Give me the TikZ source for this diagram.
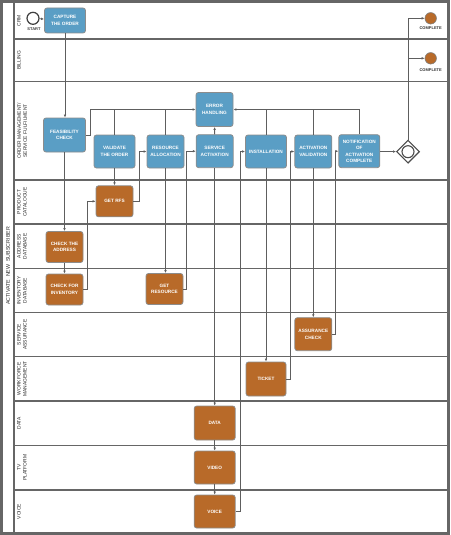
\documentclass[tikz,border=0pt]{standalone}
\usepackage{fontspec}
\setmainfont{Liberation Sans}
\usetikzlibrary{shapes.geometric, arrows.meta}
\definecolor{taskblue}{HTML}{5A9EC5}
\definecolor{taskorange}{HTML}{B86A29}
\definecolor{framegray}{HTML}{666666}
\definecolor{linegray}{HTML}{5E5E5E}
\begin{document}
\begin{tikzpicture}
[every node/.style={inner sep=0pt},
 >={Latex[length=3pt,width=2.6pt]},
 lane/.style={line width=1.2pt, color=framegray},
 lanelabel/.style={rotate=90, anchor=north, align=center, text=black!85, font=\fontsize{4.9}{6}\selectfont},
 task/.style={rectangle, rounded corners=2.5pt, minimum height=33pt, line width=0.8pt, draw=gray!90, text=white, align=center, font=\fontsize{4.7}{6.4}\selectfont\bfseries},
 bluetask/.style={task, fill=taskblue},
 orangetask/.style={task, fill=taskorange},
 flow/.style={line width=0.8pt, ->, color=linegray},
 mergeline/.style={line width=0.8pt, color=linegray},
 endevent/.style={circle, minimum size=11.5pt, fill=taskorange, line width=0.6pt, draw=gray},
 eventlabel/.style={font=\fontsize{4}{4.5}\selectfont\bfseries, text=black!80}]
\useasboundingbox (0pt,0pt) rectangle (450pt,-535pt);
% swimlanes
\foreach \y in {39, 81.5, 180, 224, 268.5, 312.5, 356.5, 401, 445.5, 490}
  \draw [lane] (14pt, -\y pt) -- (447pt, -\y pt);
\draw [line width=1.6pt, color=framegray] (14pt, -2pt) -- (14pt, -533pt);
\draw [line width=2.6pt, color=framegray] (1.3pt, -1.3pt) rectangle (448.7pt, -533.7pt);
\node (pool) [rotate=90, text=black!85, font=\fontsize{5.3}{6}\selectfont] at (8pt, -266pt) {ACTIVATE\ \ NEW\ \ SUBSCRIBER};
\node (l1) [lanelabel] at (17pt, -20.5pt) {CRM};
\node (l2) [lanelabel] at (17pt, -60.3pt) {BILLING};
\node (l3) [lanelabel] at (17pt, -130.8pt) {ORDER MANAGEMENT/\\SERVICE FULFILMENT};
\node (l4) [lanelabel] at (17pt, -202pt) {PRODUCT\\CATALOGUE};
\node (l5) [lanelabel] at (17pt, -246.3pt) {ADDRESS\\DATABASE};
\node (l6) [lanelabel] at (17pt, -290.5pt) {INVENTORY\\DATABASE};
\node (l7) [lanelabel] at (17pt, -334.5pt) {SERVICE\\ASSURANCE};
\node (l8) [lanelabel] at (17pt, -378.8pt) {WORKFORCE\\MANAGEMENT};
\node (l9) [lanelabel] at (17pt, -423.3pt) {DATA};
\node (l10) [lanelabel] at (17pt, -467.8pt) {TV\\PLATFORM};
\node (l11) [lanelabel] at (17pt, -511.5pt) {VOICE};
% events and gateway
\node (start) [circle, minimum size=12pt, fill=white, line width=1.2pt, draw=black!75] at (33pt, -18.3pt) {};
\node (startlbl) [eventlabel] at (34pt, -29pt) {START};
\node (end1) [endevent] at (430.7pt, -18.3pt) {};
\node (end1lbl) [eventlabel] at (430.7pt, -28.5pt) {COMPLETE};
\node (end2) [endevent] at (430.7pt, -58.3pt) {};
\node (end2lbl) [eventlabel] at (430.7pt, -70pt) {COMPLETE};
\node (gw) [diamond, minimum size=23pt, fill=white, line width=1.1pt, draw=black!70] at (408pt, -151.7pt) {};
\node (gwring) [circle, minimum size=12pt, line width=1.1pt, draw=black!70] at (408pt, -151.7pt) {};
% tasks
\node (capture) [bluetask, minimum width=41pt, minimum height=25pt] at (65pt, -20.5pt) {CAPTURE\\THE ORDER};
\node (feas) [bluetask, minimum width=42pt, minimum height=34pt] at (64.5pt, -135pt) {FEASIBILITY\\CHECK};
\node (valid) [bluetask, minimum width=41pt] at (114.5pt, -151.5pt) {VALIDATE\\THE ORDER};
\node (resalloc) [bluetask, minimum width=37pt] at (165.5pt, -151.5pt) {RESOURCE\\ALLOCATION};
\node (servact) [bluetask, minimum width=37pt] at (214.7pt, -151.2pt) {SERVICE\\ACTIVATION};
\node (error) [bluetask, minimum width=37pt, minimum height=34pt] at (214.5pt, -109.5pt) {ERROR\\HANDLING};
\node (install) [bluetask, minimum width=41pt] at (266pt, -151.5pt) {INSTALLATION};
\node (actval) [bluetask, minimum width=37pt] at (313.3pt, -151.5pt) {ACTIVATION\\VALIDATION};
\node (notify) [bluetask, minimum width=41pt] at (359.3pt, -151.2pt) {NOTIFICATION\\OF\\ACTIVATION\\COMPLETE};
\node (getrfs) [orangetask, minimum width=37pt, minimum height=31pt] at (114.5pt, -201.3pt) {GET RFS};
\node (address) [orangetask, minimum width=37pt, minimum height=31pt] at (64.5pt, -247pt) {CHECK THE\\ADDRESS};
\node (inventory) [orangetask, minimum width=37pt, minimum height=31pt] at (64.5pt, -289.5pt) {CHECK FOR\\INVENTORY};
\node (getres) [orangetask, minimum width=37pt, minimum height=31pt] at (164.5pt, -289pt) {GET\\RESOURCE};
\node (assure) [orangetask, minimum width=37pt] at (313.3pt, -334.2pt) {ASSURANCE\\CHECK};
\node (ticket) [orangetask, minimum width=40pt, minimum height=34pt] at (266pt, -379pt) {TICKET};
\node (data) [orangetask, minimum width=41pt, minimum height=34pt] at (214.7pt, -423pt) {DATA};
\node (video) [orangetask, minimum width=41pt] at (214.7pt, -467.5pt) {VIDEO};
\node (voice) [orangetask, minimum width=41pt] at (214.7pt, -511.5pt) {VOICE};
% sequence flows
\draw [flow] (start) -- (capture);
\draw [flow] (capture.south) -- (capture.south |- feas.north);
\draw [flow] (feas) -- (address);
\draw [flow] (address) -- (inventory);
\draw [flow] (inventory.east) -- ++(4pt, 0pt) |- (getrfs.west);
\draw [flow] (feas.east) -- ++(4pt, 0pt) |- (error.west);
\draw [mergeline] (valid.north) -- (valid.north |- error.west);
\draw [mergeline] (resalloc.north) -- (resalloc.north |- error.west);
\draw [flow] (notify.north) |- (error.east);
\draw [mergeline] (install.north) -- (install.north |- error.east);
\draw [mergeline] (actval.north) -- (actval.north |- error.east);
\draw [flow] (servact) -- (error);
\draw [flow] (valid) -- (getrfs);
\draw [flow] (getrfs.east) -- ++(6pt, 0pt) |- (resalloc.west);
\draw [flow] (resalloc.south) -- (resalloc.south |- getres.north);
\draw [flow] (getres.east) -- ++(3pt, 0pt) |- (servact.west);
\draw [flow] (servact.south) -- (servact.south |- data.north);
\draw [flow] (data) -- (video);
\draw [flow] (video) -- (voice);
\draw [flow] (voice.east) -- ++(4.5pt, 0pt) |- (install.west);
\draw [flow] (install) -- (ticket);
\draw [flow] (ticket.east) -- ++(4pt, 0pt) |- (actval.west);
\draw [flow] (actval) -- (assure);
\draw [flow] (assure.east) -- ++(2.8pt, 0pt) |- (notify.west);
\draw [flow] (notify) -- (gw);
\draw [flow] (gw.north) |- (end2.west);
\draw [flow] (gw.north) |- (end1.west);
\end{tikzpicture}
\end{document}
